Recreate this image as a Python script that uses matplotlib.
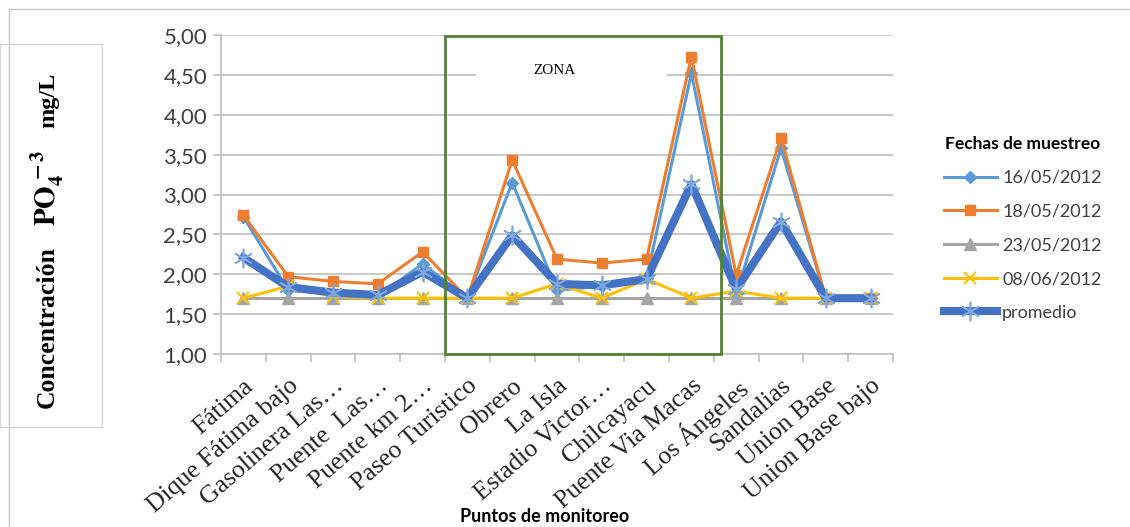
import numpy as np
import matplotlib
matplotlib.use("Agg")
import matplotlib.pyplot as plt
from matplotlib.patches import Rectangle
from matplotlib.lines import Line2D

# datos
puntos = ["Fátima", "Dique Fátima bajo", "Gasolinera Las…", "Puente  Las…",
          "Puente km 2…", "Paseo Turistico", "Obrero", "La Isla",
          "Estadio Victor…", "Chilcayacu", "Puente Via Macas", "Los Ángeles",
          "Sandalias", "Union Base", "Union Base bajo"]
f_16_05 = [2.72, 1.80, 1.75, 1.72, 2.13, 1.70, 3.15, 1.80, 1.85, 1.95, 4.52, 1.75, 3.58, 1.70, 1.70]
f_18_05 = [2.74, 1.97, 1.91, 1.88, 2.28, 1.70, 3.43, 2.19, 2.14, 2.19, 4.73, 1.99, 3.71, 1.70, 1.70]
f_23_05 = [1.70, 1.70, 1.70, 1.70, 1.70, 1.70, 1.70, 1.70, 1.70, 1.70, 1.70, 1.70, 1.70, 1.70, 1.70]
f_08_06 = [1.70, 1.85, 1.72, 1.70, 1.70, 1.70, 1.70, 1.88, 1.70, 1.94, 1.70, 1.79, 1.70, 1.70, 1.70]
promedio = [2.21, 1.84, 1.77, 1.74, 2.03, 1.70, 2.49, 1.88, 1.86, 1.94, 3.13, 1.81, 2.66, 1.70, 1.70]
y_ticks = [1.0, 1.5, 2.0, 2.5, 3.0, 3.5, 4.0, 4.5, 5.0]

W, H = 1130, 527
plt.rcParams["mathtext.fontset"] = "stix"
fig = plt.figure(figsize=(W / 100, H / 100), dpi=100)
ax = fig.add_axes([221 / W, 1 - 354 / H, (893 - 221) / W, (354 - 35) / H])

x = np.arange(len(puntos))
gris = "#BFBFBF"

ax.plot(x, f_16_05, color="#5B9BD5", lw=2.2, marker="D", ms=6, label="16/05/2012", zorder=3)
ax.plot(x, f_18_05, color="#ED7D31", lw=2.2, marker="s", ms=7.5, label="18/05/2012", zorder=4)
ax.plot(x, f_23_05, color="#A5A5A5", lw=2.2, marker="^", ms=8, label="23/05/2012", zorder=5)
ax.plot(x, f_08_06, color="#FFC000", lw=2.2, marker="x", ms=8, mew=1.5, label="08/06/2012", zorder=6)
ax.plot(x, promedio, color="#4472C4", lw=5.8, marker=(6, 2, 0), ms=14, mec="#7FA7E0",
        mew=1.2, label="promedio", zorder=7)

ax.set_xlim(-0.5, len(puntos) - 0.5)
ax.set_ylim(1, 5)
ax.set_yticks(y_ticks)
ax.set_yticklabels([f"{v:.2f}".replace(".", ",") for v in y_ticks],
                   family="Lato", fontsize=16, color="#404040")
ax.yaxis.grid(True, color=gris, lw=1.2, zorder=0)
ax.set_axisbelow(True)

ax.set_xticks(x)
ax.set_xticklabels(puntos, family="Liberation Serif", fontsize=18.5, rotation=41,
                   ha="right", va="top", rotation_mode="anchor", color="#222222")
ax.set_xticks(np.arange(-0.5, len(puntos)), minor=True)
ax.tick_params(axis="x", which="major", length=0, pad=15)
ax.tick_params(axis="x", which="minor", length=6, color=gris, width=1.2)
ax.tick_params(axis="y", length=6, color=gris, width=1.2, pad=4)
for s in ["top", "right"]:
    ax.spines[s].set_visible(False)
for s in ["left", "bottom"]:
    ax.spines[s].set_color(gris)
    ax.spines[s].set_linewidth(1.2)

# recuadro ZONA
ax.add_patch(Rectangle((4.5, 1.0), 10.65 - 4.5, 4.99 - 1.0, fill=False,
                       ec="#548235", lw=2, zorder=8, clip_on=False))
ax.add_patch(Rectangle((5.2, 4.2), 9.45 - 5.2, 0.65, fc="white", ec="none", zorder=1))
ax.text(6.95, 4.56, "ZONA", family="Liberation Serif", fontsize=11, ha="center",
        va="center", zorder=9)

ax.set_xlabel("Puntos de monitoreo", family="Lato", fontweight="bold", fontsize=13)
ax.xaxis.label.set_va("center")
ax.xaxis.set_label_coords((545 - 221) / (893 - 221), -(517 - 354) / (354 - 35))

# marco exterior y caja del titulo del eje y
fig.add_artist(Line2D([9 / W, 1], [1 - 9 / H] * 2, color="#C8C8C8", lw=1))
fig.add_artist(Line2D([9 / W] * 2, [0, 1 - 9 / H], color="#C8C8C8", lw=1))
fig.add_artist(Rectangle((0, 1 - 427 / H), 102 / W, (427 - 44) / H, fc="white",
                         ec="#D9D9D9", lw=1, transform=fig.transFigure))
fig.text(47 / W, 1 - 327 / H, "Concentración", rotation=90, family="Liberation Serif",
         fontweight="bold", fontsize=18.5, ha="center", va="center")
fig.text(47 / W, 1 - 188 / H, r"$\mathbf{PO_4^{\,-3}}$", rotation=90, fontsize=21,
         ha="center", va="center")
fig.text(49 / W, 1 - 100 / H, "mg/L", rotation=90, family="Liberation Serif",
         fontweight="bold", fontsize=17.5, ha="center", va="center")

leg = fig.legend(loc="upper left", bbox_to_anchor=(928 / W, 1 - 120 / H), frameon=False,
                 prop={"family": "Lato", "size": 13}, handlelength=2.9, labelspacing=0.98,
                 handletextpad=0.3, title="Fechas de muestreo",
                 title_fontproperties={"family": "Lato", "weight": "bold", "size": 12.5})
for t in leg.get_texts():
    t.set_color("#404040")

fig.savefig("out.png", dpi=100)
